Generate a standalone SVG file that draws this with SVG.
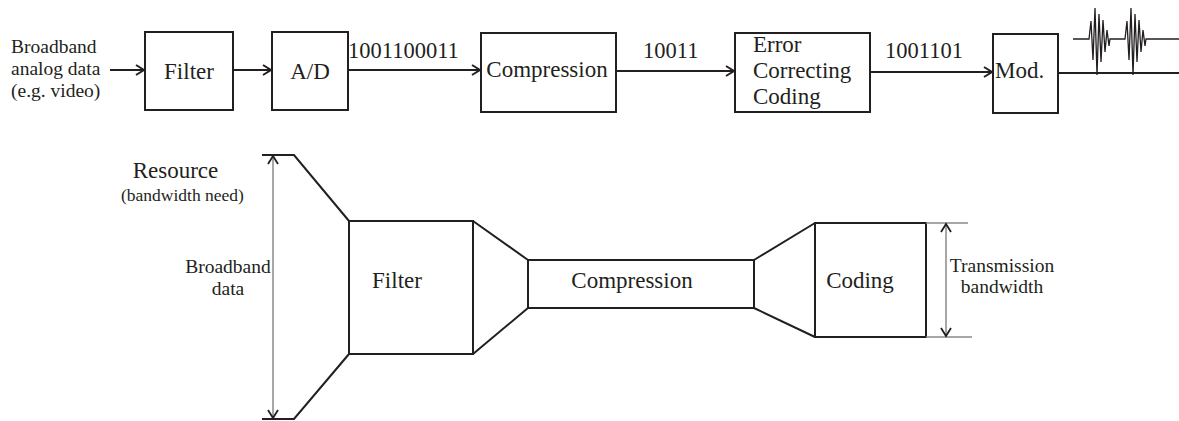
<svg xmlns="http://www.w3.org/2000/svg" width="1179" height="421" viewBox="0 0 1179 421" font-family="'Liberation Serif', 'DejaVu Serif', serif">
<style>
  text { font-family: 'Liberation Serif', 'DejaVu Serif', serif; fill: #231f20; }
  .lbl { font-size: 23px; }
  .num { font-size: 22.5px; }
  .sm { font-size: 19.5px; }
  .box { fill: #fff; stroke: #231f20; stroke-width: 2; }
  .wire { fill: none; stroke: #231f20; stroke-width: 2; }
  .dim { fill: none; stroke: #8a8a8a; stroke-width: 1.5; }
</style>
<defs>
  <marker id="arr" markerUnits="userSpaceOnUse" markerWidth="12" markerHeight="12" refX="10" refY="6" orient="auto">
    <path d="M2,1 L10,6 L2,11" fill="none" stroke="#231f20" stroke-width="2"/>
  </marker>
  <marker id="darr" markerUnits="userSpaceOnUse" markerWidth="12" markerHeight="12" refX="10" refY="6" orient="auto-start-reverse">
    <path d="M2,1 L10,6 L2,11" fill="none" stroke="#231f20" stroke-width="1.8"/>
  </marker>
</defs>

<!-- Top chain -->
<g id="input-label">
  <text class="sm" x="11" y="53">Broadband</text>
  <text class="sm" x="11" y="75">analog data</text>
  <text class="sm" x="11" y="97">(e.g. video)</text>
</g>
<g id="filter-top">
  <rect class="box" x="145" y="32" width="88" height="78"/>
  <text class="lbl" x="189" y="79" text-anchor="middle">Filter</text>
</g>
<g id="ad">
  <rect class="box" x="272" y="32" width="76" height="78"/>
  <text class="lbl" x="310" y="79" text-anchor="middle">A/D</text>
</g>
<g id="compression-top">
  <rect class="box" x="481" y="33" width="135" height="79"/>
  <text class="lbl" x="547" y="77" text-anchor="middle">Compression</text>
</g>
<g id="ecc">
  <rect class="box" x="735" y="33" width="135" height="79"/>
  <text class="lbl" x="753" y="52">Error</text>
  <text class="lbl" x="753" y="78">Correcting</text>
  <text class="lbl" x="753" y="104">Coding</text>
</g>
<g id="mod">
  <rect class="box" x="993" y="34" width="65" height="79"/>
  <text class="lbl" x="995" y="78">Mod.</text>
</g>
<g id="waveform">
  <polyline fill="none" stroke="#231f20" stroke-width="1.3" points="1073,39 1089,39 1091,21 1093,60 1095,8 1097,75 1099,14 1101,62 1103,20 1105,52 1107,30 1109,46 1110,39 1125,39 1127,21 1129,60 1131,8 1133,75 1135,14 1137,62 1139,20 1141,52 1143,30 1145,46 1146,39 1179,39"/>
</g>

<g id="connectors-top">
  <line class="wire" x1="110" y1="70" x2="144" y2="70" marker-end="url(#arr)"/>
  <line class="wire" x1="234" y1="70" x2="271" y2="70" marker-end="url(#arr)"/>
  <line class="wire" x1="348" y1="70" x2="480" y2="70" marker-end="url(#arr)"/>
  <line class="wire" x1="616" y1="71" x2="734" y2="71" marker-end="url(#arr)"/>
  <line class="wire" x1="870" y1="72" x2="992" y2="72" marker-end="url(#arr)"/>
  <line class="wire" x1="1058" y1="73" x2="1179" y2="73"/>
  <text class="num" x="348" y="58">1001100011</text>
  <text class="num" x="643" y="58">10011</text>
  <text class="num" x="885" y="58">1001101</text>
</g>

<!-- Bottom resource diagram -->
<g id="resource-label">
  <text class="lbl" x="175.5" y="178" text-anchor="middle">Resource</text>
  <text x="121" y="201" style="font-size:17.5px">(bandwidth need)</text>
</g>
<g id="broadband-funnel">
  <polyline class="wire" points="262,155 294,155 349,221"/>
  <polyline class="wire" points="262,419 294,419 349,354"/>
  <text class="sm" x="228" y="273" text-anchor="middle">Broadband</text>
  <text class="sm" x="228" y="295" text-anchor="middle">data</text>
</g>
<g id="filter-bottom">
  <rect class="box" x="349" y="221" width="124" height="133"/>
  <text class="lbl" x="397" y="288" text-anchor="middle">Filter</text>
</g>
<g id="compression-bottom">
  <polyline class="wire" points="473,221 528,260"/>
  <polyline class="wire" points="473,354 528,308"/>
  <rect class="box" x="528" y="260" width="226" height="48"/>
  <text class="lbl" x="632" y="288" text-anchor="middle">Compression</text>
</g>
<g id="coding-bottom">
  <polyline class="wire" points="754,260 815,223"/>
  <polyline class="wire" points="754,308 815,337"/>
  <rect class="box" x="815" y="223" width="111" height="114"/>
  <text class="lbl" x="860" y="288" text-anchor="middle">Coding</text>
</g>
<g id="transmission-label">
  <text class="sm" x="1002" y="272" text-anchor="middle">Transmission</text>
  <text class="sm" x="1002" y="293" text-anchor="middle">bandwidth</text>
</g>

<g id="dimension-lines">
  <line class="dim" x1="273" y1="156" x2="273" y2="418" marker-start="url(#darr)" marker-end="url(#darr)"/>
  <line class="dim" x1="926" y1="223" x2="968" y2="223"/>
  <line class="dim" x1="926" y1="337" x2="972" y2="337"/>
  <line class="dim" x1="946" y1="224" x2="946" y2="336" marker-start="url(#darr)" marker-end="url(#darr)"/>
</g>
</svg>
